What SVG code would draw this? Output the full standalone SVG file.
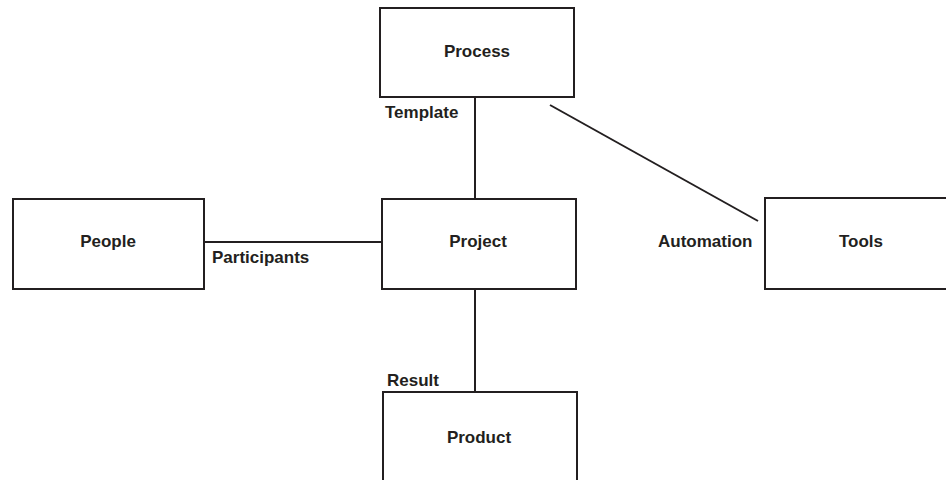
<svg xmlns="http://www.w3.org/2000/svg" width="946" height="480" viewBox="0 0 946 480">
  <style>
    .box { fill: #ffffff; stroke: #231f20; stroke-width: 2; }
    .link { stroke: #231f20; stroke-width: 2; fill: none; }
    .name { font-family: "Liberation Sans", Arial, sans-serif; font-weight: bold; font-size: 17px; fill: #231f20; text-anchor: middle; }
    .role { font-family: "Liberation Sans", Arial, sans-serif; font-weight: bold; font-size: 17px; fill: #231f20; }
  </style>
  <rect width="946" height="480" fill="#ffffff"/>

  <!-- connectors -->
  <g id="connectors">
    <line class="link" x1="475" y1="97" x2="475" y2="199"/>
    <line class="link" x1="204" y1="242" x2="382" y2="242"/>
    <line class="link" x1="475" y1="289" x2="475" y2="392"/>
    <line class="link" x1="550" y1="105" x2="758" y2="221"/>
    <text class="role" x="385" y="118">Template</text>
    <text class="role" x="212" y="263">Participants</text>
    <text class="role" x="658" y="247">Automation</text>
    <text class="role" x="387" y="386">Result</text>
  </g>

  <g id="process">
    <rect class="box" x="380" y="8" width="194" height="89"/>
    <text class="name" x="477" y="57">Process</text>
  </g>

  <g id="people">
    <rect class="box" x="13" y="199" width="191" height="90"/>
    <text class="name" x="108" y="247">People</text>
  </g>

  <g id="project">
    <rect class="box" x="382" y="199" width="194" height="90"/>
    <text class="name" x="478" y="247">Project</text>
  </g>

  <g id="tools">
    <rect class="box" x="765" y="198" width="194" height="91"/>
    <text class="name" x="861" y="247">Tools</text>
  </g>

  <g id="product">
    <rect class="box" x="383" y="392" width="194" height="100"/>
    <text class="name" x="479" y="443">Product</text>
  </g>
</svg>
